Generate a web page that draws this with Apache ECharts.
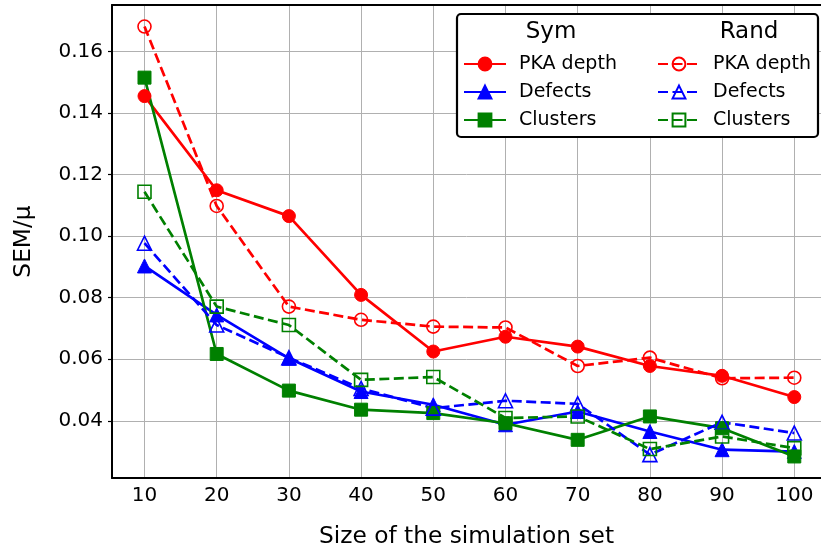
<!DOCTYPE html>
<html>
<head>
<meta charset="utf-8">
<script src="https://cdn.jsdelivr.net/npm/echarts@6/dist/echarts.min.js"></script>
<style>
html,body{margin:0;padding:0;background:#fff;}
#chart{width:821px;height:553px;}
</style>
</head>
<body>
<div id="chart"></div>
<script>
// ---- data ----
const sizes = [10, 20, 30, 40, 50, 60, 70, 80, 90, 100];
const symPKA      = [0.1455, 0.1149, 0.1065, 0.0809, 0.0625, 0.0673, 0.0641, 0.0578, 0.0546, 0.0477];
const symDefects  = [0.0903, 0.0744, 0.0603, 0.0495, 0.0452, 0.0387, 0.0430, 0.0365, 0.0306, 0.0300];
const symClusters = [0.1515, 0.0617, 0.0498, 0.0436, 0.0425, 0.0392, 0.0338, 0.0414, 0.0376, 0.0284];
const randPKA      = [0.1681, 0.1098, 0.0771, 0.0728, 0.0706, 0.0703, 0.0578, 0.0605, 0.0538, 0.0540];
const randDefects  = [0.0977, 0.0711, 0.0605, 0.0505, 0.0441, 0.0465, 0.0455, 0.0290, 0.0395, 0.0360];
const randClusters = [0.1144, 0.0771, 0.0711, 0.0533, 0.0542, 0.0409, 0.0414, 0.0308, 0.0349, 0.0311];
const yTicks = [0.04, 0.06, 0.08, 0.10, 0.12, 0.14, 0.16];
const xTicks = [10, 20, 30, 40, 50, 60, 70, 80, 90, 100];

const FONT = 'DejaVu Sans';
const RED = '#ff0000', BLUE = '#0000ff', GREEN = '#008000';

function pairs(vals) { return sizes.map((x, i) => [x, vals[i]]); }

function mkSeries(name, vals, color, symbol, filled, dashed, size) {
  return {
    name: name,
    type: 'line',
    data: pairs(vals),
    symbol: symbol,
    symbolSize: size,
    showAllSymbol: true,
    z: 2,
    lineStyle: { color: color, width: 2.7, type: dashed ? [10, 4.5] : 'solid' },
    itemStyle: filled
      ? { color: color, borderColor: color, borderWidth: 1 }
      : { color: 'rgba(0,0,0,0)', borderColor: color, borderWidth: 1.6 },
    emphasis: { disabled: true },
    animation: false
  };
}

const series = [
  mkSeries('Sym PKA depth', symPKA, RED, 'circle', true, false, 13),
  mkSeries('Sym Defects', symDefects, BLUE, 'triangle', true, false, 14),
  mkSeries('Sym Clusters', symClusters, GREEN, 'rect', true, false, 13),
  mkSeries('Rand PKA depth', randPKA, RED, 'circle', false, true, 13),
  mkSeries('Rand Defects', randDefects, BLUE, 'triangle', false, true, 14),
  mkSeries('Rand Clusters', randClusters, GREEN, 'rect', false, true, 13)
];

const legendCommon = {
  orient: 'vertical',
  top: 53,
  padding: 0,
  z: 20,
  itemWidth: 42,
  itemHeight: 16,
  itemGap: 6,
  selectedMode: false,
  formatter: n => n.replace(/^(Sym|Rand) /, ''),
  textStyle: { fontFamily: FONT, fontSize: 19, color: '#000', lineHeight: 22, padding: [0, 0, 0, 8] }
};

const axisLineStyle = { show: true, lineStyle: { color: '#000', width: 2 } };

const chart = echarts.init(document.getElementById('chart'), null, { renderer: 'canvas' });
chart.setOption({
  animation: false,
  backgroundColor: '#fff',
  grid: { left: 112, top: 5, right: 0, bottom: 75 },
  xAxis: [{
    type: 'value', min: 5.5, max: 103.7,
    name: 'Size of the simulation set', nameLocation: 'middle', nameGap: 47,
    nameTextStyle: { fontFamily: FONT, fontSize: 23.3, color: '#000' },
    axisLine: axisLineStyle,
    axisTick: { show: false, customValues: xTicks },
    axisLabel: { customValues: xTicks, margin: 8, fontFamily: FONT, fontSize: 20, color: '#000' },
    splitLine: { show: true, lineStyle: { color: '#b0b0b0', width: 1 } }
  }, {
    type: 'value', position: 'top', min: 5.5, max: 103.7,
    axisLine: axisLineStyle,
    axisTick: { show: false }, axisLabel: { show: false }, splitLine: { show: false }
  }],
  yAxis: {
    type: 'value', min: 0.0214, max: 0.1751,
    name: 'SEM/μ', nameLocation: 'middle', nameGap: 77,
    nameTextStyle: { fontFamily: FONT, fontSize: 23.3, color: '#000' },
    axisLine: axisLineStyle,
    axisTick: { show: true, length: 4, customValues: yTicks, lineStyle: { color: '#000', width: 1.2 } },
    axisLabel: { customValues: yTicks, margin: 9, fontFamily: FONT, fontSize: 20, color: '#000', formatter: v => v.toFixed(2) },
    splitLine: { show: true, lineStyle: { color: '#b0b0b0', width: 1 } }
  },
  legend: [
    Object.assign({}, legendCommon, { left: 463, data: series.slice(0, 3).map(s => s.name) }),
    Object.assign({}, legendCommon, { left: 657, data: series.slice(3).map(s => s.name) })
  ],
  graphic: [
    { type: 'rect', z: 10, shape: { x: 457, y: 14, width: 361, height: 123, r: 4 },
      style: { fill: '#fff', stroke: '#000', lineWidth: 2.2 } },
    { type: 'text', z: 30, x: 551, y: 32,
      style: { text: 'Sym', fontFamily: FONT, fontSize: 23, fill: '#000', align: 'center', verticalAlign: 'middle' } },
    { type: 'text', z: 30, x: 749, y: 32,
      style: { text: 'Rand', fontFamily: FONT, fontSize: 23, fill: '#000', align: 'center', verticalAlign: 'middle' } }
  ],
  series: series
});
</script>
</body>
</html>
